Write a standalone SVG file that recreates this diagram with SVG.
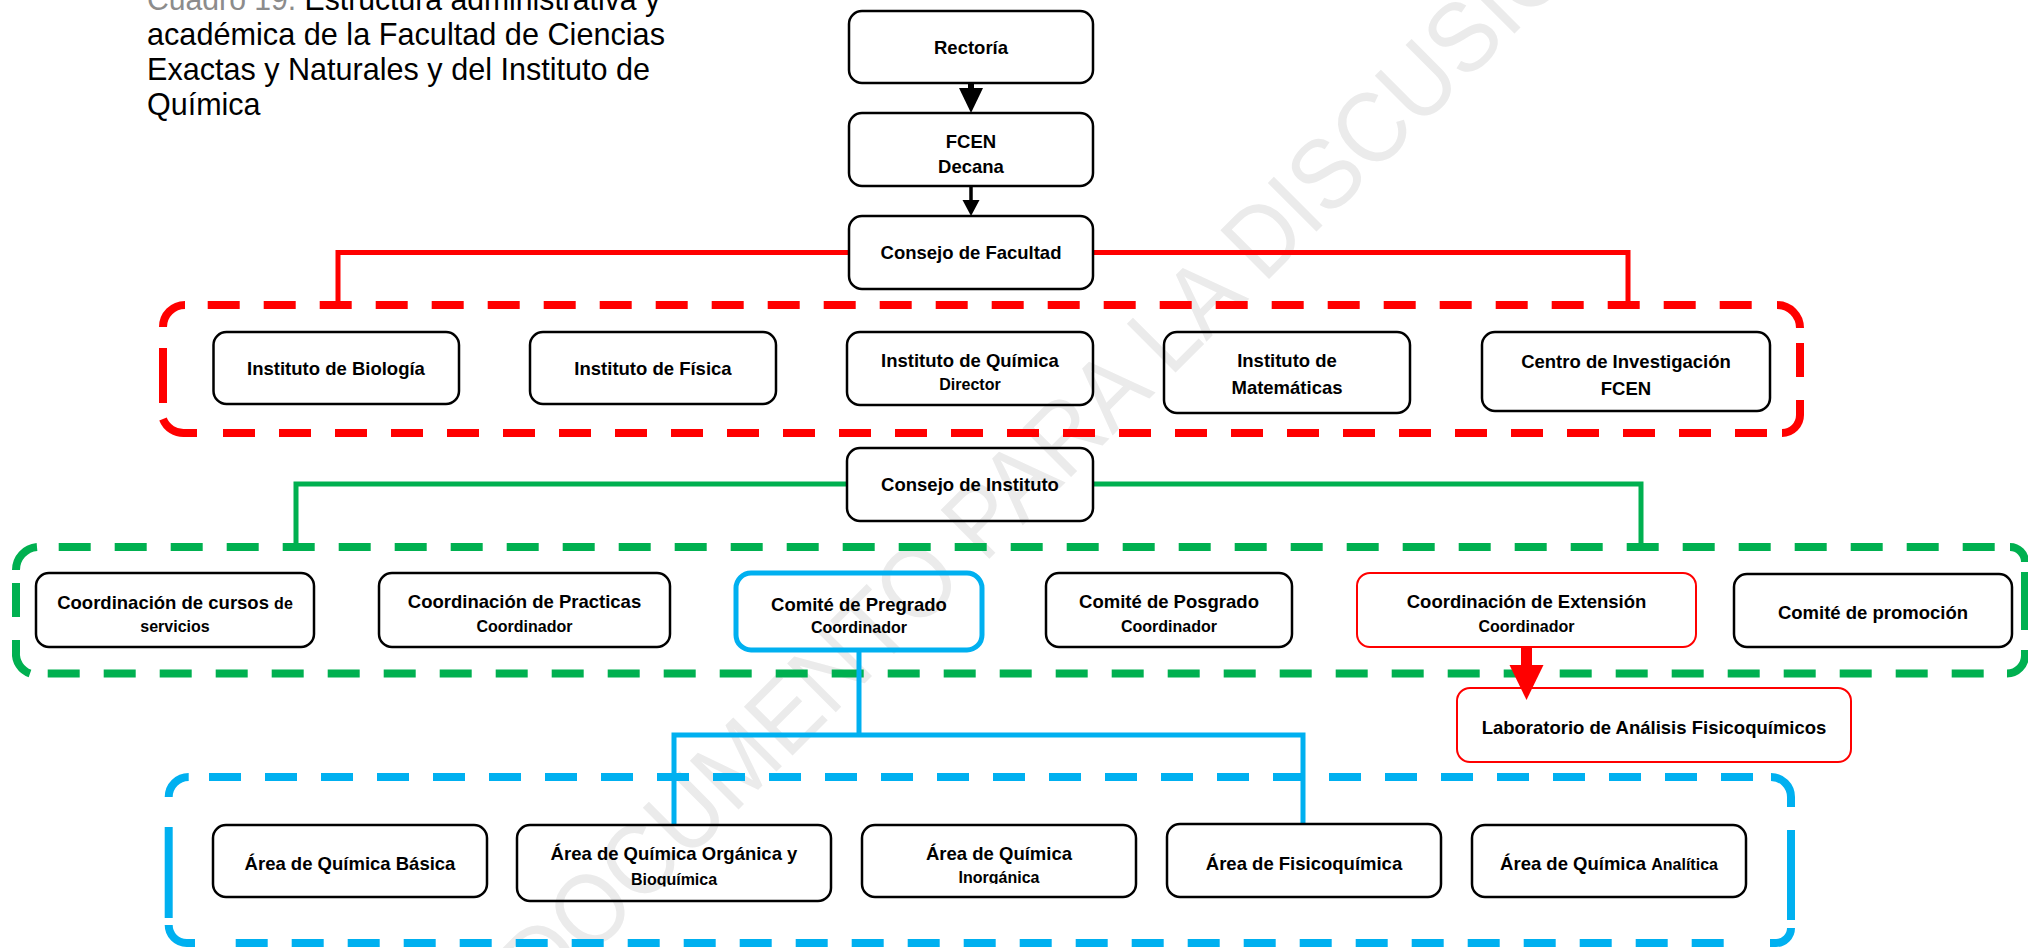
<svg xmlns="http://www.w3.org/2000/svg" width="2028" height="948" viewBox="0 0 2028 948">
<style>
.box{fill:none;stroke:#000;stroke-width:2.5}
.rbox{fill:none;stroke:#FF0000;stroke-width:2}
.bbox{fill:none;stroke:#00B0F0;stroke-width:5}
.t{font-family:"Liberation Sans",Arial,sans-serif;font-weight:bold;font-size:18.5px;fill:#000;text-anchor:middle}
.s{font-size:16px}
.title{font-family:"Liberation Sans",Arial,sans-serif;font-size:30.5px;fill:#000}
.wm{font-family:"Liberation Sans",Arial,sans-serif;font-size:100px;fill:#ebebeb}
.fr{fill:none;stroke:#FF0000;stroke-width:8}
.fg{fill:none;stroke:#00B050;stroke-width:8}
.fb{fill:none;stroke:#00B0F0;stroke-width:8}
.d{stroke-dasharray:32 24}
.cr{fill:none;stroke:#FF0000;stroke-width:5}
.cg{fill:none;stroke:#00B050;stroke-width:5}
.cb{fill:none;stroke:#00B0F0;stroke-width:5}
</style>
<defs>
<clipPath id="clipBio"><rect x="500" y="820" width="350" height="66.5"/></clipPath>
<clipPath id="clipInorg"><rect x="850" y="820" width="300" height="64"/></clipPath>
</defs>

<text class="wm" x="542.6" y="1005.4" transform="rotate(-45 542.6 1005.4)" textLength="1529" lengthAdjust="spacingAndGlyphs">DOCUMENTO PARA LA DISCUSIÓN</text>

<g id="title">
<text class="title" x="147" y="10" textLength="513" lengthAdjust="spacingAndGlyphs"><tspan fill="#8c8c8c">Cuadro 19.</tspan> Estructura administrativa y</text>
<text class="title" x="147" y="45" textLength="518" lengthAdjust="spacingAndGlyphs">académica de la Facultad de Ciencias</text>
<text class="title" x="147" y="80" textLength="503" lengthAdjust="spacingAndGlyphs">Exactas y Naturales y del Instituto de</text>
<text class="title" x="147" y="115">Química</text>
</g>

<g id="frames">
<g id="frame-red">
<path class="fr d" d="M207.7 305 H1752"/>
<path class="fr d" d="M223 433 H1767"/>
<path class="fr" d="M163 327 A22 22 0 0 1 185 305"/>
<path class="fr" d="M163 348 V403"/>
<path class="fr" d="M163 419 A22 22 0 0 0 185 433 H197"/>
<path class="fr" d="M1777 305 A23 23 0 0 1 1800 328"/>
<path class="fr" d="M1800 343 V377"/>
<path class="fr" d="M1800 400 V415 A18 18 0 0 1 1782 433"/>
</g>
<g id="frame-green">
<path class="fg d" d="M58.7 547 H1994.7"/>
<path class="fg d" d="M47.7 673.5 H1983.7"/>
<path class="fg" d="M16 570 A23 23 0 0 1 37 547"/>
<path class="fg" d="M16 583 V617"/>
<path class="fg" d="M16 640 V652 A21 21 0 0 0 30 673.5"/>
<path class="fg" d="M2010 547 A15 15 0 0 1 2025 562"/>
<path class="fg" d="M2025 572 V630"/>
<path class="fg" d="M2025 650 V655 A18 18 0 0 1 2007 673.5"/>
</g>
<g id="frame-blue">
<path class="fb d" d="M209 777 H1753"/>
<path class="fb d" d="M235.7 943 H1723.7"/>
<path class="fb" d="M168.7 797 A20 20 0 0 1 188.7 777"/>
<path class="fb" d="M168.7 827 V918"/>
<path class="fb" d="M168.7 925 A18 18 0 0 0 186.7 943 H195"/>
<path class="fb" d="M1771 777 A20 20 0 0 1 1791 797 V807"/>
<path class="fb" d="M1791 830 V920"/>
<path class="fb" d="M1791 928 A15 15 0 0 1 1776 943 H1770"/>
</g>
</g>

<g id="connectors">
<path class="cr" d="M849 252.5 H338 V305"/>
<path class="cr" d="M1093 252.5 H1628 V305"/>
<path class="cg" d="M847 484 H296 V547"/>
<path class="cg" d="M1093 484 H1641 V547"/>
<path class="cb" d="M859 650 V735"/>
<path class="cb" d="M674 825 V735 H1303 V824"/>
<line x1="971" y1="83" x2="971" y2="92" stroke="#000" stroke-width="6"/>
<polygon points="959,88 983,88 971,113" fill="#000"/>
<line x1="971" y1="186" x2="971" y2="202" stroke="#000" stroke-width="3.5"/>
<polygon points="962.5,200 979.5,200 971,216" fill="#000"/>
<rect x="1521" y="647" width="11" height="20" fill="#FF0000"/>
<polygon points="1509.5,665 1543.5,665 1526.5,700" fill="#FF0000"/>
</g>

<g id="n-rectoria"><rect class="box" x="849" y="11" width="244" height="72" rx="13"/><text class="t" x="971" y="54">Rectoría</text></g>
<g id="n-fcen"><rect class="box" x="849" y="113" width="244" height="73" rx="13"/><text class="t" x="971" y="148">FCEN</text><text class="t" x="971" y="173">Decana</text></g>
<g id="n-consejo-facultad"><rect class="box" x="849" y="216" width="244" height="73" rx="13"/><text class="t" x="971" y="259">Consejo de Facultad</text></g>

<g id="n-biologia"><rect class="box" x="213.5" y="332" width="245.5" height="72" rx="13"/><text class="t" x="336" y="374.5">Instituto de Biología</text></g>
<g id="n-fisica"><rect class="box" x="530" y="332" width="246" height="72" rx="13"/><text class="t" x="653" y="374.5">Instituto de Física</text></g>
<g id="n-quimica"><rect class="box" x="847" y="332" width="246" height="73" rx="13"/><text class="t" x="970" y="366.7">Instituto de Química</text><text class="t s" x="970" y="390">Director</text></g>
<g id="n-matematicas"><rect class="box" x="1164" y="332" width="246" height="81" rx="13"/><text class="t" x="1287" y="367">Instituto de</text><text class="t" x="1287" y="393.5">Matemáticas</text></g>
<g id="n-centro"><rect class="box" x="1482" y="332" width="288" height="79" rx="13"/><text class="t" x="1626" y="367.5">Centro de Investigación</text><text class="t" x="1626" y="394.5">FCEN</text></g>

<g id="n-consejo-instituto"><rect class="box" x="847" y="448" width="246" height="73" rx="13"/><text class="t" x="970" y="491">Consejo de Instituto</text></g>

<g id="n-cursos"><rect class="box" x="36" y="573" width="278" height="74" rx="13"/><text class="t" x="175" y="609">Coordinación de cursos <tspan class="s">de</tspan></text><text class="t s" x="175" y="632">servicios</text></g>
<g id="n-practicas"><rect class="box" x="379" y="573" width="291" height="74" rx="13"/><text class="t" x="524.5" y="608">Coordinación de Practicas</text><text class="t s" x="524.5" y="632">Coordinador</text></g>
<g id="n-pregrado"><rect class="bbox" x="736" y="573" width="246" height="77" rx="15"/><text class="t" x="859" y="610.7">Comité de Pregrado</text><text class="t s" x="859" y="633.3">Coordinador</text></g>
<g id="n-posgrado"><rect class="box" x="1046" y="573" width="246" height="74" rx="13"/><text class="t" x="1169" y="608">Comité de Posgrado</text><text class="t s" x="1169" y="632">Coordinador</text></g>
<g id="n-extension"><rect class="rbox" x="1357" y="573" width="339" height="74" rx="13"/><text class="t" x="1526.5" y="608">Coordinación de Extensión</text><text class="t s" x="1526.5" y="632">Coordinador</text></g>
<g id="n-promocion"><rect class="box" x="1734" y="574" width="278" height="73" rx="13"/><text class="t" x="1873" y="619">Comité de promoción</text></g>

<g id="n-laboratorio"><rect class="rbox" x="1457" y="688" width="394" height="74" rx="13"/><text class="t" x="1654" y="733.5">Laboratorio de Análisis Fisicoquímicos</text></g>

<g id="n-basica"><rect class="box" x="213" y="825" width="274" height="72" rx="13"/><text class="t" x="350" y="869.5">Área de Química Básica</text></g>
<g id="n-organica"><rect class="box" x="517" y="825" width="314" height="76" rx="13"/><text class="t" x="674" y="860">Área de Química Orgánica y</text><text class="t s" x="674" y="885" clip-path="url(#clipBio)">Bioquímica</text></g>
<g id="n-inorganica"><rect class="box" x="862" y="825" width="274" height="72" rx="13"/><text class="t" x="999" y="860">Área de Química</text><text class="t s" x="999" y="883" clip-path="url(#clipInorg)">Inorgánica</text></g>
<g id="n-fisicoquimica"><rect class="box" x="1167" y="824" width="274" height="73" rx="13"/><text class="t" x="1304" y="869.5">Área de Fisicoquímica</text></g>
<g id="n-analitica"><rect class="box" x="1472" y="825" width="274" height="72" rx="13"/><text class="t" x="1609" y="869.5">Área de Química <tspan class="s">Analítica</tspan></text></g>
</svg>
